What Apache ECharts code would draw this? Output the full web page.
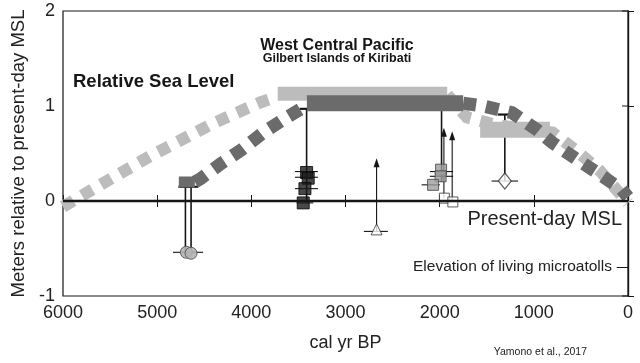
<!DOCTYPE html>
<html><head><meta charset="utf-8">
<script src="https://cdn.jsdelivr.net/npm/echarts@6/dist/echarts.min.js"></script>
<style>html,body{margin:0;padding:0;background:#fff}#c{width:640px;height:363px}</style>
</head><body><div id="c"></div>
<script>
// ---- data ----
const xTicks = [6000, 5000, 4000, 3000, 2000, 1000, 0];
const yTicks = [-1, 0, 1, 2];
const lightRise = [[6000,-0.06],[5500,0.23],[5080,0.47],[4400,0.82],[3900,1.04],[3720,1.1]];
const lightFall = [[1920,1.12],[1710,0.88],[1400,0.8],[800,0.72],[550,0.53],[300,0.32],[0,-0.02]];
const lightBar = [[3720,1.13],[1920,1.13]];
const lightBar2 = [[1570,0.75],[830,0.75]];
const darkStub = [[4770,0.2],[4600,0.2]];
const darkRise = [[4600,0.2],[4546,0.23],[4315,0.4],[4103,0.54],[3873,0.72],[3625,0.88],[3420,1.0]];
const darkBar = [[3410,1.03],[1750,1.03]];
const darkFall = [[1750,1.03],[1541,1.0],[1234,0.93],[968,0.75],[798,0.61],[544,0.44],[300,0.28],[66,0.12],[0,0.04]];
const zeroLine = [[6000,0],[0,0]];
const microatollLevel = [[120,-0.7],[0,-0.7]];
// vertical error bars: [year, low, high]
const vErr = [[4700,-0.54,0.15],[4640,-0.54,0.15],[3413,-0.02,0.97],[1980,0.2,1.0],[1308,0.21,0.91]];
// arrows (minimum limits): [year, low, tip]
const arrows = [[2670,-0.32,0.45],[1955,0.03,0.77],[1867,-0.01,0.735]];
// horizontal error bars: [value, yearHigh, yearLow]
const hErr = [[-0.54,4832,4512],[0.31,3537,3293],[0.25,3537,3293],[0.13,3537,3293],[-0.02,3519,3342],
              [-0.32,2805,2550],[0.31,2104,1857],[0.26,2104,1857],[0.17,2192,1998],[0.21,1449,1167]];
const circles = [[4690,-0.54],[4640,-0.55]];
const blackSquares = [[3413,0.30],[3396,0.24],[3431,0.13],[3449,-0.02]];
const graySquares = [[1985,0.33],[1990,0.26],[2070,0.17]];
const openSquares = [[1950,0.03],[1860,-0.01]];
const triangles = [[2670,-0.32]];
const diamonds = [[1308,0.21]];

const LIGHT = '#bcbcbc', DARK = '#6b6b6b', INK = '#161616';
const FONT = '"Liberation Sans", Arial, sans-serif';

const chart = echarts.init(document.getElementById('c'), null, {renderer: 'canvas'});

function lineS(data, color, width, dash, extra) {
  return Object.assign({
    type: 'line', data: data, symbol: 'none', silent: true, animation: false,
    lineStyle: {color: color, width: width, type: dash || 'solid', cap: 'butt', join: 'miter'}
  }, extra || {});
}

const option = {
  animation: false,
  grid: {left: 63, right: 12, top: 11, bottom: 67, show: true, borderColor: INK, borderWidth: 1.2},
  xAxis: [{
    type: 'value', inverse: true, min: 0, max: 6000, interval: 1000,
    axisLine: {show: true, lineStyle: {color: INK, width: 1.2}},
    axisTick: {show: true, inside: true, length: 6, lineStyle: {color: INK}},
    splitLine: {show: false},
    axisLabel: {color: '#222', fontSize: 18, fontFamily: FONT, margin: 8,
      formatter: v => xTicks.includes(v) ? String(v) : ''},
    name: 'cal yr BP', nameLocation: 'middle', nameGap: 38,
    nameTextStyle: {color: '#222', fontSize: 18, fontFamily: FONT}
  }, {
    type: 'value', inverse: true, min: 0, max: 6000, interval: 1000, position: 'top',
    axisLine: {show: true, lineStyle: {color: INK, width: 1.2}},
    axisTick: {show: true, inside: true, length: 6, lineStyle: {color: INK}},
    axisLabel: {show: false}, splitLine: {show: false}
  }],
  yAxis: [{
    type: 'value', min: -1, max: 2, interval: 1,
    axisLine: {show: true, lineStyle: {color: INK, width: 1.2}},
    axisTick: {show: true, inside: true, length: 6, lineStyle: {color: INK}},
    splitLine: {show: false},
    axisLabel: {color: '#222', fontSize: 18, fontFamily: FONT, margin: 8,
      formatter: v => yTicks.includes(v) ? String(v) : ''},
    name: 'Meters relative to present-day MSL', nameLocation: 'middle', nameGap: 32,
    nameTextStyle: {color: '#222', fontSize: 18.5, fontFamily: FONT}
  }, {
    type: 'value', min: -1, max: 2, interval: 1, position: 'right',
    axisLine: {show: true, lineStyle: {color: INK, width: 1.2}},
    axisTick: {show: false},
    axisLabel: {show: false}, splitLine: {show: false}
  }],
  graphic: [
    {type: 'text', x: 337, y: 46, style: {text: 'West Central Pacific', font: 'bold 16px ' + FONT, fill: INK, align: 'center', verticalAlign: 'middle'}},
    {type: 'text', x: 337, y: 59, style: {text: 'Gilbert Islands of Kiribati', font: 'bold 12.5px ' + FONT, fill: INK, align: 'center', verticalAlign: 'middle'}},
    {type: 'text', x: 73, y: 82, style: {text: 'Relative Sea Level', font: 'bold 18.5px ' + FONT, fill: INK, align: 'left', verticalAlign: 'middle'}},
    {type: 'text', x: 622, y: 219, style: {text: 'Present-day MSL', font: '20px ' + FONT, fill: '#222', align: 'right', verticalAlign: 'middle'}},
    {type: 'text', x: 612, y: 267, style: {text: 'Elevation of living microatolls', font: '15.5px ' + FONT, fill: '#222', align: 'right', verticalAlign: 'middle'}},
    {type: 'text', x: 587, y: 352, style: {text: 'Yamono et al., 2017', font: '10.5px ' + FONT, fill: '#222', align: 'right', verticalAlign: 'middle'}}
  ],
  series: [
    lineS(lightRise, LIGHT, 12, [12, 10]),
    lineS(lightFall, LIGHT, 12, [12, 10]),
    lineS(lightBar, LIGHT, 14),
    lineS(lightBar2, LIGHT, 16),
    lineS(darkStub, DARK, 11),
    lineS(darkRise, DARK, 13, [13, 10], {}),
    lineS(darkFall, DARK, 13, [13, 10]),
    lineS(darkBar, DARK, 16),
    lineS(zeroLine, INK, 2.6),
    lineS(microatollLevel, INK, 1.2),
    {
      // inward ticks on the right-hand frame
      type: 'custom', data: yTicks.map(v => [0, v]), silent: true, animation: false,
      renderItem: function (params, api) {
        const p = api.coord([api.value(0), api.value(1)]);
        return {type: 'line', shape: {x1: p[0] - 6, y1: p[1], x2: p[0], y2: p[1]}, style: {stroke: INK, lineWidth: 1}};
      }
    },
    {
      type: 'custom', data: vErr, silent: true, animation: false,
      renderItem: function (params, api) {
        const p1 = api.coord([api.value(0), api.value(1)]);
        const p2 = api.coord([api.value(0), api.value(2)]);
        return {type: 'group', children: [
          {type: 'line', shape: {x1: p1[0], y1: p1[1], x2: p2[0], y2: p2[1]}, style: {stroke: INK, lineWidth: 1.6}},
          {type: 'line', shape: {x1: p2[0] - 7, y1: p2[1], x2: p2[0] + 7, y2: p2[1]}, style: {stroke: INK, lineWidth: 2.2}}
        ]};
      }
    },
    {
      type: 'custom', data: arrows, silent: true, animation: false,
      renderItem: function (params, api) {
        const p1 = api.coord([api.value(0), api.value(1)]);
        const p2 = api.coord([api.value(0), api.value(2)]);
        return {type: 'group', children: [
          {type: 'line', shape: {x1: p1[0], y1: p1[1], x2: p2[0], y2: p2[1] + 4}, style: {stroke: INK, lineWidth: 1.1}},
          {type: 'polygon', shape: {points: [[p2[0], p2[1]], [p2[0] - 3, p2[1] + 9], [p2[0] + 3, p2[1] + 9]]}, style: {fill: INK}}
        ]};
      }
    },
    {
      type: 'custom', data: hErr, silent: true, animation: false,
      renderItem: function (params, api) {
        const p1 = api.coord([api.value(1), api.value(0)]);
        const p2 = api.coord([api.value(2), api.value(0)]);
        return {type: 'line', shape: {x1: p1[0], y1: p1[1], x2: p2[0], y2: p2[1]}, style: {stroke: INK, lineWidth: 1.1}};
      }
    },
    {type: 'scatter', data: circles, symbol: 'circle', symbolSize: 12, silent: true, animation: false,
      itemStyle: {color: '#b3b3b3', borderColor: '#555', borderWidth: 1, opacity: 0.9}},
    {type: 'scatter', data: blackSquares, symbol: 'rect', symbolSize: 12, silent: true, animation: false,
      itemStyle: {color: '#1a1a1a', borderColor: '#000', borderWidth: 1}},
    {type: 'scatter', data: graySquares, symbol: 'rect', symbolSize: 11, silent: true, animation: false,
      itemStyle: {color: '#9e9e9e', borderColor: '#444', borderWidth: 1}},
    {type: 'scatter', data: openSquares, symbol: 'rect', symbolSize: 10, silent: true, animation: false,
      itemStyle: {color: '#fff', borderColor: '#333', borderWidth: 1}},
    {type: 'scatter', data: triangles, symbol: 'triangle', symbolSize: 11, symbolOffset: [0, -2], silent: true, animation: false,
      itemStyle: {color: '#fff', borderColor: '#333', borderWidth: 1}},
    {type: 'scatter', data: diamonds, symbol: 'diamond', symbolSize: [13, 16], silent: true, animation: false,
      itemStyle: {color: '#fff', borderColor: '#333', borderWidth: 1.2}}
  ]
};
chart.setOption(option);
</script>
</body></html>
